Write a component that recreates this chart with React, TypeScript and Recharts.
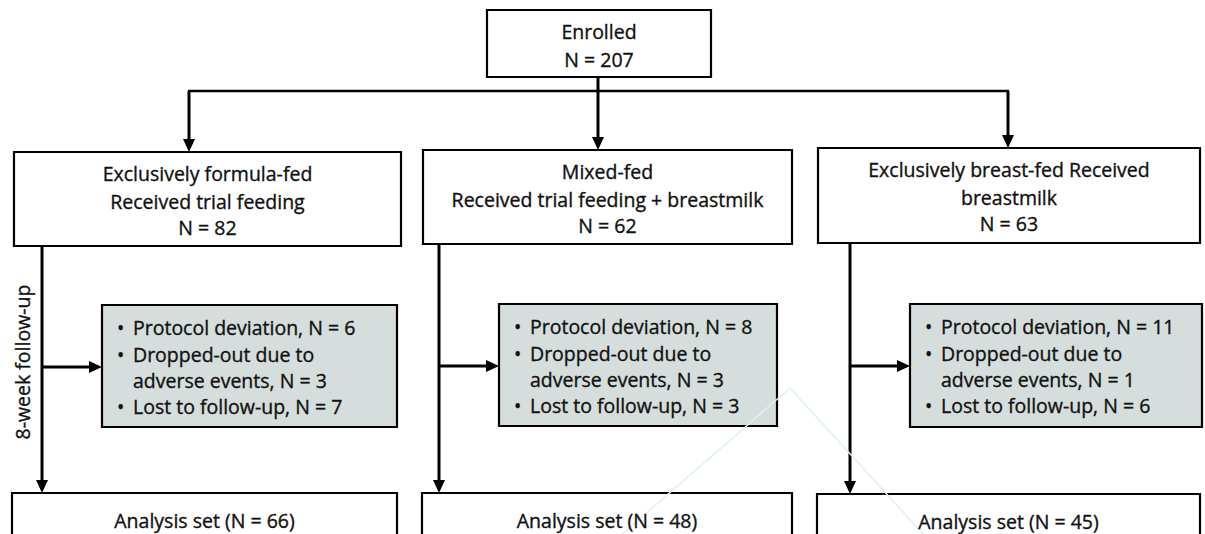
import React from "react";
import { ScatterChart, Scatter, XAxis, YAxis, ReferenceArea, ReferenceLine } from "recharts";

// ---- content values ----
const enrolledN = 207;
const groupTitles = [
  ["Exclusively formula-fed", "Received trial feeding"],
  ["Mixed-fed", "Received trial feeding + breastmilk"],
  ["Exclusively breast-fed Received", "breastmilk"],
];
const groupN = [82, 62, 63];
const protocolDeviation = [6, 8, 11];
const droppedAdverse = [3, 3, 1];
const lostFollowUp = [7, 3, 6];
const analysisN = [66, 48, 45];
const followUpLabel = "8-week follow-up";

// ---- layout (chart units = pixels of the 1205x534 canvas) ----
const W = 1205;
const H = 534;
const enrolledBox = { x1: 487, x2: 711, y1: 10, y2: 77 };
const groupBoxes = [
  { x1: 14, x2: 401, y1: 152, y2: 246 },
  { x1: 423, x2: 792, y1: 150, y2: 244 },
  { x1: 818, x2: 1200, y1: 148, y2: 243 },
];
const exclBoxes = [
  { x1: 102, x2: 397, y1: 305, y2: 427 },
  { x1: 499, x2: 777, y1: 304, y2: 426 },
  { x1: 910, x2: 1202, y1: 304, y2: 427 },
];
const analysisBoxes = [
  { x1: 12, x2: 397, y1: 493, y2: 536 },
  { x1: 422, x2: 792, y1: 493, y2: 536 },
  { x1: 817, x2: 1200, y1: 494, y2: 536 },
];
const branchY = 91;
const branchX = [189, 598, 1008];
const stemX = [42, 439, 850];
const sideY = [367, 366, 366];
const watermark = [
  [{ x: 620, y: 536 }, { x: 790, y: 388 }],
  [{ x: 790, y: 388 }, { x: 925, y: 536 }],
];

const FONT = "'Open Sans', 'Noto Sans', sans-serif";
const FS = 19.5;

type TextItem = { x: number; y: number; label: string; anchor: string; rotate?: boolean };
const texts: TextItem[] = [];
const cx = (b: { x1: number; x2: number }) => (b.x1 + b.x2) / 2;
texts.push({ x: cx(enrolledBox), y: 31, label: "Enrolled", anchor: "middle" });
texts.push({ x: cx(enrolledBox), y: 59, label: `N = ${enrolledN}`, anchor: "middle" });
const groupOffsets = [21, 49, 75];
groupBoxes.forEach((b, i) => {
  texts.push({ x: cx(b), y: b.y1 + groupOffsets[0], label: groupTitles[i][0], anchor: "middle" });
  texts.push({ x: cx(b), y: b.y1 + groupOffsets[1], label: groupTitles[i][1], anchor: "middle" });
  texts.push({ x: cx(b), y: b.y1 + groupOffsets[2], label: `N = ${groupN[i]}`, anchor: "middle" });
});
const exclOffsets = [22, 49, 75, 101];
exclBoxes.forEach((b, i) => {
  const tx = b.x1 + 31;
  const bx = b.x1 + 15;
  texts.push({ x: bx, y: b.y1 + exclOffsets[0], label: "•", anchor: "start" });
  texts.push({ x: tx, y: b.y1 + exclOffsets[0], label: `Protocol deviation, N = ${protocolDeviation[i]}`, anchor: "start" });
  texts.push({ x: bx, y: b.y1 + exclOffsets[1], label: "•", anchor: "start" });
  texts.push({ x: tx, y: b.y1 + exclOffsets[1], label: "Dropped-out due to", anchor: "start" });
  texts.push({ x: tx, y: b.y1 + exclOffsets[2], label: `adverse events, N = ${droppedAdverse[i]}`, anchor: "start" });
  texts.push({ x: bx, y: b.y1 + exclOffsets[3], label: "•", anchor: "start" });
  texts.push({ x: tx, y: b.y1 + exclOffsets[3], label: `Lost to follow-up, N = ${lostFollowUp[i]}`, anchor: "start" });
});
analysisBoxes.forEach((b, i) => {
  texts.push({ x: cx(b), y: b.y1 + 27, label: `Analysis set (N = ${analysisN[i]})`, anchor: "middle" });
});
texts.push({ x: 22, y: 362, label: followUpLabel, anchor: "middle", rotate: true });

type Arrow = { x: number; y: number; dir: "down" | "right" };
const arrows: Arrow[] = [];
branchX.forEach((x, i) => arrows.push({ x, y: groupBoxes[i].y1, dir: "down" }));
stemX.forEach((x, i) => arrows.push({ x, y: analysisBoxes[i].y1, dir: "down" }));
sideY.forEach((y, i) => arrows.push({ x: exclBoxes[i].x1, y, dir: "right" }));

type Seg = { a: { x: number; y: number }; b: { x: number; y: number }; w: number };
const segs: Seg[] = [];
segs.push({ a: { x: 598, y: enrolledBox.y2 }, b: { x: 598, y: groupBoxes[1].y1 - 8 }, w: 3 });
segs.push({ a: { x: branchX[0] - 1, y: branchY }, b: { x: branchX[2] + 1, y: branchY }, w: 2.5 });
segs.push({ a: { x: branchX[0], y: branchY }, b: { x: branchX[0], y: groupBoxes[0].y1 - 8 }, w: 3 });
segs.push({ a: { x: branchX[2], y: branchY }, b: { x: branchX[2], y: groupBoxes[2].y1 - 8 }, w: 3 });
stemX.forEach((x, i) => {
  segs.push({ a: { x, y: groupBoxes[i].y2 }, b: { x, y: analysisBoxes[i].y1 - 8 }, w: 3 });
  segs.push({ a: { x, y: sideY[i] }, b: { x: exclBoxes[i].x1 - 8, y: sideY[i] }, w: 3 });
});

const TextShape = (props: any) => {
  const { cx: x, cy: y, payload } = props;
  return (
    <text
      x={x}
      y={y}
      textAnchor={payload.anchor}
      dominantBaseline="central"
      fontSize={FS}
      fontFamily={FONT}
      fill="#111"
      stroke="#111"
      strokeWidth={0.35}
      transform={payload.rotate ? `rotate(-90 ${x} ${y})` : undefined}
    >
      {payload.label}
    </text>
  );
};

const ArrowShape = (props: any) => {
  const { cx: x, cy: y, payload } = props;
  const pts =
    payload.dir === "down"
      ? `${x - 6},${y - 13} ${x + 6},${y - 13} ${x},${y}`
      : `${x - 13},${y - 6} ${x - 13},${y + 6} ${x},${y}`;
  return <polygon points={pts} fill="#000" />;
};

export default function App() {
  return (
    <div style={{ position: "absolute", left: 0, top: 0, background: "#fff" }}>
      <ScatterChart width={W} height={H} margin={{ top: 0, right: 0, bottom: 0, left: 0 }}>
        <XAxis type="number" dataKey="x" domain={[0, W]} hide allowDataOverflow />
        <YAxis type="number" dataKey="y" domain={[0, H]} reversed hide allowDataOverflow />
        {[enrolledBox, ...groupBoxes, ...analysisBoxes].map((b, i) => (
          <ReferenceArea
            key={`b${i}`}
            x1={b.x1}
            x2={b.x2}
            y1={b.y1}
            y2={b.y2}
            fill="#ffffff"
            fillOpacity={1}
            stroke="#000"
            strokeWidth={2.2}
            ifOverflow="visible"
          />
        ))}
        {exclBoxes.map((b, i) => (
          <ReferenceArea
            key={`e${i}`}
            x1={b.x1}
            x2={b.x2}
            y1={b.y1}
            y2={b.y2}
            fill="#d5dedd"
            fillOpacity={1}
            stroke="#000"
            strokeWidth={2.2}
            ifOverflow="visible"
          />
        ))}
        {segs.map((s, i) => (
          <ReferenceLine key={`s${i}`} segment={[s.a, s.b]} stroke="#000" strokeWidth={s.w} ifOverflow="visible" />
        ))}
        {watermark.map((s, i) => (
          <ReferenceLine key={`w${i}`} segment={s} stroke="#e0f1f2" strokeWidth={1.5} ifOverflow="visible" />
        ))}
        <Scatter data={arrows} dataKey="y" shape={ArrowShape} isAnimationActive={false} />
        <Scatter data={texts} dataKey="y" shape={TextShape} isAnimationActive={false} />
      </ScatterChart>
    </div>
  );
}
